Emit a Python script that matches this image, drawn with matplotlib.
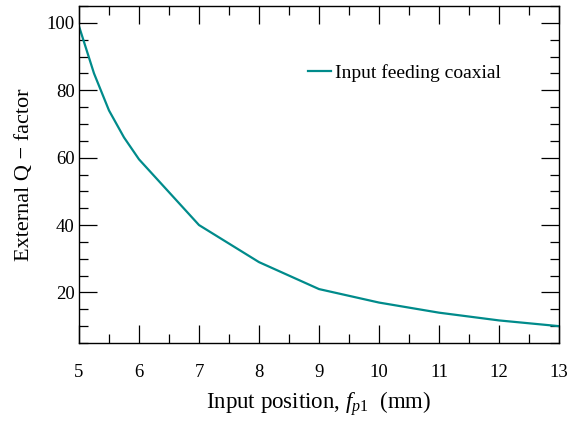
#!/usr/bin/env python3
import matplotlib
matplotlib.use("Agg")
import matplotlib.pyplot as plt
from matplotlib.ticker import MultipleLocator

# input position (mm) and external Q-factor
position = [5, 5.25, 5.5, 5.75, 6, 7, 8, 9, 10, 11, 12, 13]
q_factor = [99, 85, 74, 66, 59.5, 40, 29, 21, 17, 14, 11.7, 10]
series_label = "Input feeding coaxial"

plt.rcParams['font.family'] = ['Liberation Serif', 'DejaVu Serif']
plt.rcParams['mathtext.fontset'] = 'custom'
plt.rcParams['mathtext.rm'] = 'Liberation Serif'
plt.rcParams['mathtext.it'] = 'Liberation Serif:italic'

fig = plt.figure(figsize=(5.69, 4.22), dpi=100)
ax = fig.add_axes([79 / 569, 1 - 343 / 422, 480 / 569, 337 / 422])

ax.plot(position, q_factor, color='#008b8b', lw=1.6, label=series_label)

ax.set_xlim(5, 13)
ax.set_ylim(5, 105)
ax.xaxis.set_major_locator(MultipleLocator(1))
ax.xaxis.set_minor_locator(MultipleLocator(0.5))
ax.yaxis.set_major_locator(MultipleLocator(20))
ax.yaxis.set_minor_locator(MultipleLocator(5))
ax.tick_params(which='both', direction='in', top=True, right=True, width=0.9)
ax.tick_params(which='major', length=13, labelsize=13.5)
ax.tick_params(which='minor', length=6.5)
ax.tick_params(axis='x', which='major', pad=15)
ax.tick_params(axis='y', which='major', pad=3)
for s in ax.spines.values():
    s.set_linewidth(1.0)

ax.set_xlabel(r"Input position, $\mathit{f_{p1}}$  (mm)", fontsize=16.5, labelpad=6)
ax.set_ylabel("External Q \u2212 factor", fontsize=16, labelpad=9)

ax.legend(loc='upper left', bbox_to_anchor=(0.44, 0.88), frameon=False,
          fontsize=14, handlelength=1.2, handletextpad=0.2)

fig.savefig("out.png", dpi=100)
